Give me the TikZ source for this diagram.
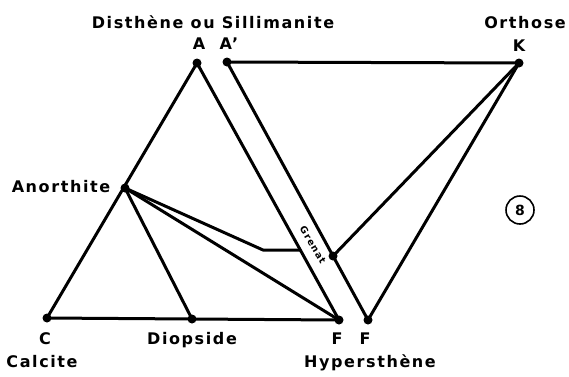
\documentclass[tikz,border=0pt]{standalone}
\usepackage{fontspec}
\setmainfont{DejaVu Sans}[LetterSpace=10]
\usetikzlibrary{calc}

\begin{document}
\begin{tikzpicture}[x=1pt,y=-1pt,line width=3pt,line join=round,
  lbl/.style={font=\fontsize{16}{16}\selectfont\bfseries,inner sep=0pt,anchor=base}]
  \useasboundingbox (0,0) rectangle (569,376);
  % sommets
  \coordinate (A) at (197,63);
  \coordinate (Ap) at (227,62);
  \coordinate (K) at (519,63);
  \coordinate (An) at (125,188);
  \coordinate (C) at (47,318);
  \coordinate (D) at (192,319);
  \coordinate (F1) at (339,320);
  \coordinate (F2) at (368,320);
  \coordinate (kink) at (263,250);
  \coordinate (S) at ($(A)!0.728!(F1)$);
  \coordinate (G) at ($(Ap)!0.752!(F2)$);
  % triangle C-A-F
  \draw (A) -- (C) -- (F1);
  \draw (An) -- (D);
  \draw (An) -- (F1);
  \draw (An) -- (kink) -- (S);
  % bande du grenat
  \draw (A) -- (F1);
  \draw (Ap) -- (F2);
  % orthose
  \draw (Ap) -- (K) -- (G);
  \draw (K) -- (F2);
  \foreach \p in {A,Ap,K,An,C,D,F1,F2,G}
    \fill (\p) circle[radius=4.5pt];
  % labels
  \node[lbl] (top) at (213,28) {Disthène ou Sillimanite};
  \node[lbl] (labA) at (199,49) {A};
  \node[lbl] (labAp) at (229,49) {A'};
  \node[lbl] (orth) at (525,28) {Orthose};
  \node[lbl] (labK) at (519,51) {K};
  \node[lbl] (anor) at (61,192) {Anorthite};
  \node[lbl] (labC) at (45,344) {C};
  \node[lbl] (calc) at (42,367) {Calcite};
  \node[lbl] (diop) at (192,344) {Diopside};
  \node[lbl] (labF1) at (337,344) {F};
  \node[lbl] (labF2) at (365,344) {F};
  \node[lbl] (hyp) at (370,367) {Hypersthène};
  \node[anchor=center,inner sep=0pt,rotate=-59.3,font=\fontsize{9.5}{9.5}\selectfont\bfseries] (gren) at (313,245) {Grenat};
  \node[circle,draw,line width=1.6pt,minimum size=28pt,inner sep=0pt,font=\fontsize{14}{14}\selectfont\bfseries] (num) at (520,210) {8};
\end{tikzpicture}
\end{document}
